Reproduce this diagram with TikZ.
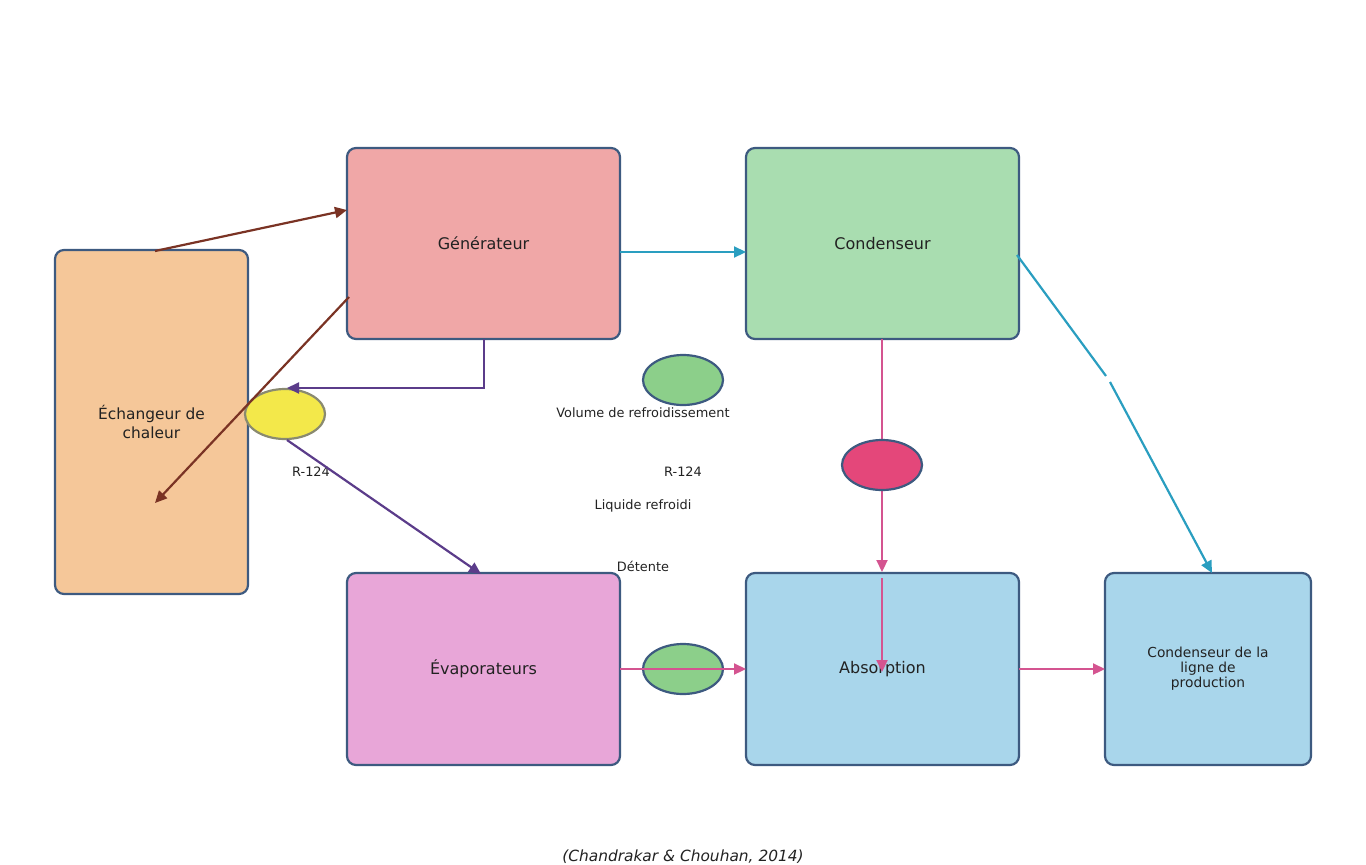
\documentclass[tikz,border=0pt]{standalone}
\usepackage{fontspec}
\setmainfont{DejaVu Sans}
\usetikzlibrary{shapes.geometric,arrows.meta}
\definecolor{edgeblue}{HTML}{3D5A80}
\definecolor{txt}{HTML}{222222}
\definecolor{fEch}{HTML}{F5C799}
\definecolor{fGen}{HTML}{F0A7A7}
\definecolor{fCon}{HTML}{A9DDB0}
\definecolor{fEva}{HTML}{E8A6D8}
\definecolor{fAbs}{HTML}{A9D6EB}
\definecolor{cBrown}{HTML}{7A3324}
\definecolor{cPurple}{HTML}{5B3C8A}
\definecolor{cBlue}{HTML}{2A9EC0}
\definecolor{cPink}{HTML}{D45490}
\definecolor{eYellow}{HTML}{F3E84A}
\definecolor{eYellowB}{HTML}{8A8A70}
\definecolor{eGreen}{HTML}{8CCF8A}
\definecolor{ePink}{HTML}{E4477A}
\tikzset{
  unitbox/.style={draw=edgeblue, line width=2.2pt, rounded corners=9pt, text=txt, align=center, inner sep=0pt},
  bigtxt/.style={font=\fontsize{16}{19}\selectfont},
  smalltxt/.style={font=\fontsize{13.8}{15}\selectfont},
  lbl/.style={text=txt, font=\fontsize{12.9}{15}\selectfont, inner sep=0pt},
  blob/.style={ellipse, draw=edgeblue, line width=2.2pt, minimum width=80pt, minimum height=50pt, inner sep=0pt},
  flow/.style={line width=2.2pt, -{Triangle[length=12pt,width=11pt]}},
  flowplain/.style={line width=2.2pt}
}
\begin{document}
\begin{tikzpicture}[x=1pt,y=-1pt]
\useasboundingbox (0,0) rectangle (1366,865);
% boxes
\node[unitbox, font=\fontsize{15.4}{18.5}\selectfont, fill=fEch, minimum width=193pt, minimum height=344pt] (ech) at (151.5,422) {Échangeur de\\chaleur};
\node[unitbox, bigtxt, fill=fGen, minimum width=273pt, minimum height=191pt] (gen) at (483.5,243.5) {Générateur};
\node[unitbox, bigtxt, fill=fCon, minimum width=273pt, minimum height=191pt] (con) at (882.5,243.5) {Condenseur};
\node[unitbox, bigtxt, fill=fEva, minimum width=273pt, minimum height=192pt] (eva) at (483.5,669) {Évaporateurs};
\node[unitbox, bigtxt, fill=fAbs, minimum width=273pt, minimum height=192pt] (abs) at (882.5,669) {Absorption};
\node[unitbox, smalltxt, fill=fAbs, minimum width=206pt, minimum height=192pt] (cpl) at (1208,669) {Condenseur de la\\ligne de\\production};
% ellipses
\node[blob, fill=eYellow, draw=eYellowB] (ey) at (285,414) {};
\node[blob, fill=eGreen] (eg1) at (683,380) {};
\node[blob, fill=eGreen] (eg2) at (683,669) {};
% labels
\node[lbl] (l1) at (643,413) {Volume de refroidissement};
\node[lbl] (l2) at (311,472) {R-124};
\node[lbl] (l3) at (683,472) {R-124};
\node[lbl] (l4) at (643,506) {Liquide refroidi};
\node[lbl] (l5) at (643,566) {Détente};
\node[text=txt, font=\fontsize{15.4}{18}\selectfont\itshape, inner sep=0pt] (cap) at (683,857) {(Chandrakar \& Chouhan, 2014)};
% coordinates
\coordinate (b1s) at (155,251);
\coordinate (b1e) at (347,210);
\coordinate (b2s) at (349,297);
\coordinate (b2e) at (155,503);
\coordinate (p1s) at (484,339);
\coordinate (p1m) at (484,388);
\coordinate (p1e) at (287,388);
\coordinate (p2s) at (287,440);
\coordinate (p2e) at (481,574);
\coordinate (c1s) at (620,252);
\coordinate (c1e) at (746,252);
\coordinate (c2s) at (1017,255);
\coordinate (c2m) at (1106,376);
\coordinate (c2n) at (1110,382);
\coordinate (c2e) at (1212,573);
\coordinate (k1s) at (882,339);
\coordinate (k1e) at (882,572);
\coordinate (k2s) at (882,578);
\coordinate (k2e) at (882,672);
\coordinate (k3s) at (620,669);
\coordinate (k3e) at (746,669);
\coordinate (k4s) at (1019,669);
\coordinate (k4e) at (1105,669);
% connectors
\draw[flow, cBrown] (b1s) -- (b1e);
\draw[flow, cBrown] (b2s) -- (b2e);
\draw[flow, cPurple] (p1s) -- (p1m) -- (p1e);
\draw[flow, cPurple] (p2s) -- (p2e);
\draw[flow, cBlue] (c1s) -- (c1e);
\draw[flowplain, cBlue] (c2s) -- (c2m);
\draw[flow, cBlue] (c2n) -- (c2e);
\draw[flow, cPink] (k1s) -- (k1e);
\draw[flow, cPink] (k2s) -- (k2e);
\draw[flow, cPink] (k3s) -- (k3e);
\draw[flow, cPink] (k4s) -- (k4e);
% pink ellipse on top
\node[blob, fill=ePink] (ep) at (882,465) {};
\end{tikzpicture}
\end{document}
